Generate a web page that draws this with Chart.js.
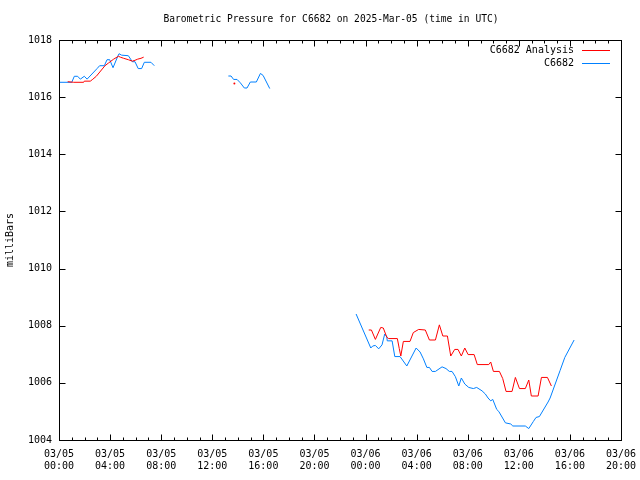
<!DOCTYPE html>
<html>
<head>
<meta charset="utf-8">
<script src="https://cdn.jsdelivr.net/npm/chart.js@4/dist/chart.umd.min.js"></script>
<style>
  html, body { margin: 0; padding: 0; background: #fff; }
  #wrap { width: 640px; height: 480px; }
</style>
</head>
<body>
<div id="wrap"><canvas id="chart" width="640" height="480"></canvas></div>
<script>
// hours since 03/05 00:00 UTC; null breaks the line
const analysisHours = [
  0.68, 1.15, 1.93, 1.98, 2.45, 2.6, 2.92, 3.6, 3.86, 4.28, 4.65, 4.8, 5.06, 5.43, 5.74, 5.95, 6.16, 6.42, 6.63,
  10,
  13.73,
  20,
  24.25, 24.46, 24.77, 25.19, 25.39, 25.66, 25.81, 26.49, 26.64, 26.76, 26.96, 27.48, 27.74, 28.16, 28.68,
  29.0, 29.47, 29.78, 30.05, 30.41, 30.67, 30.98, 31.24, 31.5, 31.77, 32.03, 32.5, 32.75, 33.65, 33.8,
  34.01, 34.48, 34.74, 35.0, 35.47, 35.73, 36.05, 36.51, 36.78, 36.98, 37.51, 37.77, 38.24, 38.55
];
const analysisValues = [
  1016.54, 1016.52, 1016.52, 1016.56, 1016.56, 1016.61, 1016.73, 1017.1, 1017.19, 1017.33, 1017.43, 1017.4, 1017.36, 1017.31, 1017.26, 1017.29, 1017.33, 1017.36, 1017.4,
  null,
  1016.48,
  null,
  1007.85, 1007.85, 1007.52, 1007.94, 1007.92, 1007.6, 1007.55, 1007.55, 1007.2, 1006.94, 1007.45, 1007.45, 1007.76, 1007.87, 1007.85,
  1007.5, 1007.5, 1008.03, 1007.64, 1007.64, 1006.94, 1007.17, 1007.17, 1006.94, 1007.22, 1006.99, 1006.99, 1006.64, 1006.64, 1006.73,
  1006.4, 1006.4, 1006.15, 1005.7, 1005.7, 1006.19, 1005.8, 1005.8, 1006.1, 1005.54, 1005.54, 1006.19, 1006.19, 1005.89
];

const obsHours = [
  0.0, 1.0, 1.2, 1.46, 1.67, 1.98, 2.2, 2.98, 3.18, 3.55, 3.76, 3.97, 4.23, 4.6, 4.7, 4.9, 5.43, 5.74, 5.95, 6.2, 6.47, 6.68, 7.2, 7.46,
  10,
  13.26, 13.47, 13.67, 13.94, 14.2, 14.51, 14.72, 14.98, 15.45, 15.77, 15.98, 16.5,
  20,
  23.26, 24.41, 24.56, 24.77, 25.03, 25.29, 25.5, 25.66, 25.7, 26.08, 26.29, 26.7, 27.23, 27.96, 28.27, 28.53, 28.8,
  29.0, 29.21, 29.47, 29.99, 30.3, 30.56, 30.77, 31.03, 31.3, 31.5, 31.77, 32.08, 32.44, 32.7, 33.12, 33.38, 33.59,
  33.8, 33.96, 34.27, 34.43, 34.95, 35.37, 35.53, 36.51, 36.78, 37.14, 37.35, 37.61, 38.29, 38.45, 39.23, 39.6, 40.33
];
const obsValues = [
  1016.52, 1016.52, 1016.73, 1016.73, 1016.63, 1016.73, 1016.63, 1017.0, 1017.1, 1017.1, 1017.31, 1017.31, 1017.03, 1017.43, 1017.52, 1017.47, 1017.45, 1017.24, 1017.24, 1017.0, 1017.0, 1017.22, 1017.22, 1017.1,
  null,
  1016.74, 1016.74, 1016.62, 1016.62, 1016.5, 1016.32, 1016.32, 1016.53, 1016.53, 1016.83, 1016.76, 1016.3,
  null,
  1008.41, 1007.22, 1007.29, 1007.31, 1007.19, 1007.33, 1007.71, 1007.62, 1007.47, 1007.47, 1006.92, 1006.92, 1006.59, 1007.22, 1007.08, 1006.84, 1006.54,
  1006.54, 1006.4, 1006.4, 1006.56, 1006.5, 1006.4, 1006.4, 1006.22, 1005.89, 1006.17, 1005.96, 1005.84, 1005.8, 1005.84, 1005.72, 1005.61, 1005.47,
  1005.37, 1005.42, 1005.07, 1005.0, 1004.6, 1004.56, 1004.49, 1004.49, 1004.4, 1004.65, 1004.79, 1004.82, 1005.33, 1005.47, 1006.43, 1006.89, 1007.5
];

const seriesLabels = ['C6682 Analysis', 'C6682'];
const seriesColors = ['#ff0000', '#0080ff'];
const xMin = 0, xMax = 44, xStep = 4;
const yMin = 1004, yMax = 1018, yStep = 2;
const titleText = 'Barometric Pressure for C6682 on 2025-Mar-05 (time in UTC)';
const yTitle = 'milliBars';

const FONT = '"DejaVu Sans Mono", "Liberation Mono", monospace';

function toPoints(hours, values) {
  return hours.map((h, i) => ({ x: h, y: values[i] }));
}

// single readings with no neighbours get a dot, otherwise no markers
function isolatedRadius(ctx) {
  const d = ctx.dataset.data;
  const i = ctx.dataIndex;
  if (d[i].y === null) return 0;
  const prev = i > 0 ? d[i - 1].y : null;
  const next = i < d.length - 1 ? d[i + 1].y : null;
  return (prev === null && next === null) ? 1 : 0;
}

function tickLabel(v) {
  const day = 5 + Math.floor(v / 24);
  const hr = v % 24;
  return ['03/' + String(day).padStart(2, '0'), String(hr).padStart(2, '0') + ':00'];
}

// gnuplot style frame: box with inward ticks on all four sides, title and legend
const framePlugin = {
  id: 'frame',
  afterDraw(chart) {
    const ctx = chart.ctx;
    const a = chart.chartArea;
    const xs = chart.scales.x;
    const ys = chart.scales.y;
    ctx.save();
    ctx.strokeStyle = '#000';
    ctx.lineWidth = 1;
    const L = Math.round(a.left) + 0.5, R = Math.round(a.right) + 0.5;
    const T = Math.round(a.top) + 0.5, B = Math.round(a.bottom) + 0.5;
    ctx.strokeRect(L, T, R - L, B - T);
    ctx.beginPath();
    for (let v = xMin; v <= xMax; v += 1) {
      const px = Math.round(xs.getPixelForValue(v)) + 0.5;
      const len = (v % xStep === 0) ? 6 : 3;
      ctx.moveTo(px, B); ctx.lineTo(px, B - len);
      ctx.moveTo(px, T); ctx.lineTo(px, T + len);
    }
    for (let v = yMin; v <= yMax; v += yStep) {
      const py = Math.round(ys.getPixelForValue(v)) + 0.5;
      ctx.moveTo(L, py); ctx.lineTo(L + 6, py);
      ctx.moveTo(R, py); ctx.lineTo(R - 6, py);
    }
    ctx.stroke();

    ctx.fillStyle = '#000';
    ctx.textBaseline = 'middle';
    ctx.textAlign = 'center';
    ctx.font = '9.6px ' + FONT;
    ctx.fillText(titleText, 331, 19);

    // legend, top right inside the frame
    ctx.font = '10px ' + FONT;
    ctx.textAlign = 'right';
    chart.data.datasets.forEach((ds, i) => {
      const ly = 50 + i * 13 + 0.5;
      ctx.fillStyle = '#000';
      ctx.fillText(ds.label, 574, ly);
      ctx.strokeStyle = ds.borderColor;
      ctx.beginPath();
      ctx.moveTo(582, ly); ctx.lineTo(610, ly);
      ctx.stroke();
    });
    ctx.restore();
  }
};

new Chart(document.getElementById('chart'), {
  type: 'line',
  data: {
    datasets: [
      {
        label: seriesLabels[0],
        data: toPoints(analysisHours, analysisValues),
        borderColor: seriesColors[0],
        backgroundColor: seriesColors[0],
        borderWidth: 1,
        pointRadius: isolatedRadius,
        pointBorderWidth: 0,
        pointHoverRadius: 0,
        tension: 0,
        spanGaps: false
      },
      {
        label: seriesLabels[1],
        data: toPoints(obsHours, obsValues),
        borderColor: seriesColors[1],
        backgroundColor: seriesColors[1],
        borderWidth: 1,
        pointRadius: isolatedRadius,
        pointBorderWidth: 0,
        pointHoverRadius: 0,
        tension: 0,
        spanGaps: false
      }
    ]
  },
  options: {
    responsive: false,
    animation: false,
    events: [],
    layout: { padding: { left: 0, right: 19, top: 40, bottom: 0 } },
    plugins: {
      legend: { display: false },
      tooltip: { enabled: false },
      title: { display: false }
    },
    scales: {
      x: {
        type: 'linear',
        min: xMin,
        max: xMax,
        afterFit: s => { s.height = 40; s.paddingLeft = 0; s.paddingRight = 0; },
        ticks: {
          stepSize: xStep,
          autoSkip: false,
          maxRotation: 0,
          color: '#000',
          padding: 8,
          font: { family: FONT, size: 10, lineHeight: 1.2 },
          callback: v => tickLabel(v)
        },
        grid: { display: false, drawTicks: false },
        border: { display: false }
      },
      y: {
        type: 'linear',
        min: yMin,
        max: yMax,
        afterFit: s => { s.width = 59; s.paddingTop = 0; s.paddingBottom = 0; },
        ticks: {
          stepSize: yStep,
          color: '#000',
          padding: 7,
          font: { family: FONT, size: 10 },
          callback: v => String(v)
        },
        grid: { display: false, drawTicks: false },
        border: { display: false },
        title: {
          display: true,
          text: yTitle,
          color: '#000',
          font: { family: FONT, size: 10, lineHeight: 1.2 },
          padding: { top: 4, bottom: 0 }
        }
      }
    }
  },
  plugins: [framePlugin]
});
</script>
</body>
</html>
